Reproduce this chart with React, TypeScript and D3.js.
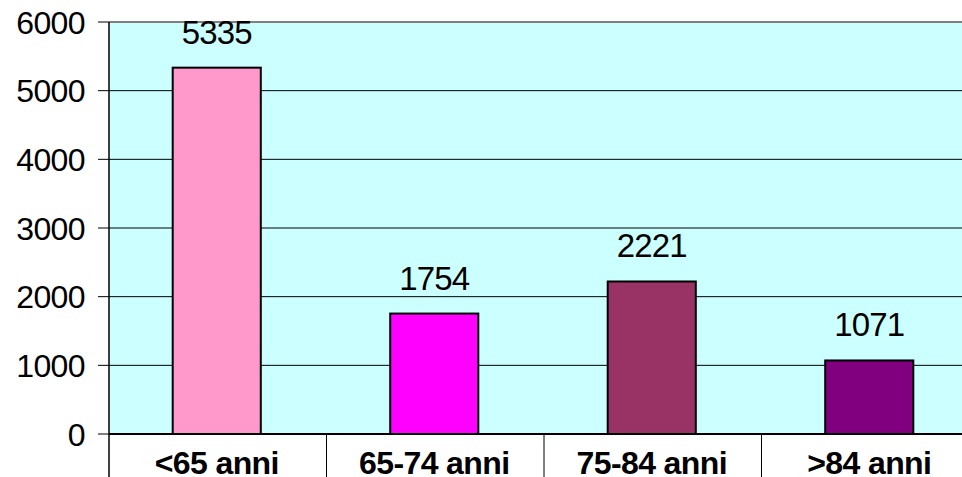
import React from 'react'
import * as d3 from 'd3'

const categories = ['<65 anni', '65-74 anni', '75-84 anni', '>84 anni']
const values = [5335, 1754, 2221, 1071]
const colors = ['#ff99cc', '#ff00ff', '#993366', '#800080']
const yTicks = [0, 1000, 2000, 3000, 4000, 5000, 6000]

const W = 962
const H = 477
const margin = { top: 22, left: 109, bottom: 43 }
const plotRight = 979

const App = () => {
  const x = d3.scaleBand().domain(categories).range([margin.left, plotRight]).paddingInner(0).paddingOuter(0)
  const y = d3.scaleLinear().domain([0, 6000]).range([H - margin.bottom, margin.top])
  const barW = x.bandwidth() * 0.405
  const font = '"Liberation Sans", Arial, sans-serif'

  return (
    <svg width={W} height={H} style={{ position: 'absolute', left: 0, top: 0 }}>
      <rect x={margin.left} y={margin.top} width={plotRight - margin.left} height={y(0) - margin.top} fill="#ccffff" />
      <line x1={margin.left} x2={plotRight} y1={margin.top} y2={margin.top} stroke="#808080" strokeWidth={2} />
      {yTicks.slice(1, -1).map(t => (
        <line key={t} x1={margin.left} x2={plotRight} y1={y(t)} y2={y(t)} stroke="#000" strokeWidth={1} />
      ))}
      {values.map((v, i) => (
        <rect
          key={i}
          x={x(categories[i])! + x.bandwidth() / 2 - barW / 2 - 1}
          y={y(v)}
          width={barW}
          height={y(0) - y(v)}
          fill={colors[i]}
          stroke="#000"
          strokeWidth={2}
        />
      ))}
      <line x1={margin.left} x2={plotRight} y1={y(0)} y2={y(0)} stroke="#000" strokeWidth={2} />
      <line x1={margin.left} x2={margin.left} y1={margin.top} y2={H} stroke="#000" strokeWidth={1.5} />
      {yTicks.map(t => (
        <g key={t}>
          <line x1={margin.left - 11} x2={margin.left} y1={y(t)} y2={y(t)} stroke="#000" strokeWidth={1} />
          <text x={margin.left - 24} y={y(t)} dy="0.36em" textAnchor="end" fontFamily={font} fontSize={32} letterSpacing={-0.6}>
            {t}
          </text>
        </g>
      ))}
      {categories.slice(1).map(c => (
        <line key={c} x1={x(c)!} x2={x(c)!} y1={y(0)} y2={H} stroke="#000" strokeWidth={1} />
      ))}
      {categories.map(c => (
        <text key={c} x={x(c)! + x.bandwidth() / 2 - 1} y={H - 3} textAnchor="middle" fontFamily={font} fontSize={32} fontWeight="bold" letterSpacing={-0.6}>
          {c}
        </text>
      ))}
      {values.map((v, i) => (
        <text key={i} x={x(categories[i])! + x.bandwidth() / 2 - 1} y={y(v) - 24} textAnchor="middle" fontFamily={font} fontSize={33} letterSpacing={-0.8}>
          {v}
        </text>
      ))}
    </svg>
  )
}

export default App
